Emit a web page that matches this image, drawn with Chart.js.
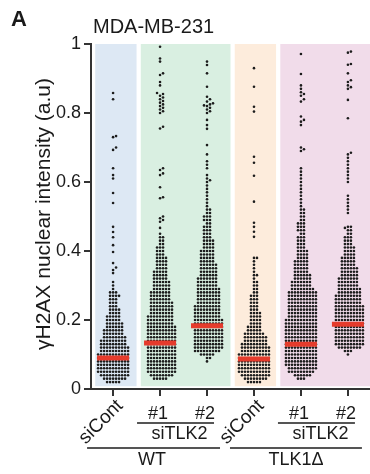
<!DOCTYPE html>
<html lang="en">
<head>
<meta charset="UTF-8">
<script src="https://cdn.jsdelivr.net/npm/chart.js"></script>
<title>MDA-MB-231</title>
<style>
  body { margin: 0; background: #fff; }
  canvas { display: block; }
</style>
</head>
<body>
<canvas id="grafico" width="370" height="474"></canvas>
<script>
// categories along x (0..5)
var categorias = ['siCont', '#1', '#2', 'siCont', '#1', '#2'];
var medianas = [0.09, 0.133, 0.183, 0.087, 0.13, 0.188];

// dense part of each swarm: number of dots per 0.01 row, starting at rowStart
var rowStep = 0.01;
var rowStart = [0.02, 0.03, 0.08, 0.02, 0.03, 0.10];
var rowsWTsiCont = [5,8,10,11,11,11,11,11,11,10,10,9,9,8,7,7,6,6,5,5,4,4,3,3,3,4,3,1,1,1];
var rowsWT1 = [5,8,10,10,10,10,10,10,10,10,10,10,10,10,10,10,9,9,9,8,8,8,8,7,7,7,6,6,6,5,5,5,4,4,4,4,3,3,3,2,2,2];
var rowsWT2 = [1,2,5,9,10,10,10,10,10,10,10,10,10,9,9,9,9,8,8,8,8,8,7,7,7,6,6,6,6,5,5,5,5,4,4,4,3,3,3,2,2,2,2,2,1,1,1];
var rowsTLKsiCont = [5,8,10,11,11,11,11,11,11,10,10,9,8,8,7,5,5,4,4,4,4,3,3,3,3,3,2,2,2,2,1,2,1,1,1,1,2];
var rowsTLK1 = [3,6,9,10,11,11,11,11,11,11,11,11,11,11,11,11,11,11,10,10,10,10,10,10,10,10,8,7,7,6,6,5,5,5,5,4,4,4,3,3,3,3,2,2,2,2,2,1,1,1,1];
var rowsTLK2 = [1,3,8,10,10,10,10,10,10,10,10,10,10,10,10,9,9,9,8,8,7,7,7,6,6,6,5,5,5,4,4,4,3,3,3,2,2,2];

// sparse high values, read one by one
var altosWTsiCont = [0.336,0.345,0.352,0.365,0.397,0.417,0.44,0.455,0.47,0.539,0.568,0.61,0.62,0.64,0.693,0.70,0.73,0.733,0.84,0.858];
var altosWT1 = [0.45,0.467,0.485,0.49,0.495,0.50,0.553,0.556,0.585,0.62,0.625,0.635,0.64,0.755,0.76,0.80,0.805,0.81,0.815,0.82,0.825,0.83,0.835,0.84,0.845,0.85,0.855,0.858,0.88,0.89,0.91,0.915,0.949,0.958,0.992];
var altosWT2 = [0.47,0.49,0.50,0.52,0.55,0.56,0.57,0.58,0.59,0.60,0.605,0.61,0.62,0.64,0.65,0.66,0.68,0.707,0.754,0.765,0.78,0.80,0.805,0.81,0.815,0.82,0.822,0.825,0.828,0.833,0.84,0.847,0.876,0.915,0.939,0.949];
var altosTLKsiCont = [0.441,0.456,0.47,0.482,0.543,0.618,0.656,0.673,0.804,0.818,0.876,0.93];
var altosTLK1 = [0.46,0.47,0.48,0.50,0.51,0.52,0.54,0.55,0.56,0.57,0.58,0.59,0.60,0.61,0.62,0.63,0.64,0.69,0.695,0.70,0.765,0.775,0.78,0.79,0.833,0.84,0.85,0.855,0.86,0.87,0.88,0.913,0.971];
var altosTLK2 = [0.467,0.51,0.52,0.53,0.54,0.55,0.56,0.60,0.61,0.62,0.63,0.64,0.65,0.66,0.67,0.68,0.685,0.785,0.838,0.87,0.875,0.88,0.89,0.895,0.915,0.94,0.942,0.975,0.978];

var rows = [rowsWTsiCont, rowsWT1, rowsWT2, rowsTLKsiCont, rowsTLK1, rowsTLK2];
var altos = [altosWTsiCont, altosWT1, altosWT2, altosTLKsiCont, altosTLK1, altosTLK2];

// simple beeswarm: each dot goes to the nearest free slot beside the centre
var pxX = 47, pxY = 345, gap = 3.0;
function swarm(centro, valores) {
    var feitos = [];
    var saida = [];
    valores.forEach(function (y) {
        for (var k = 0; k < 60; k++) {
            var off = (k % 2 ? 1 : -1) * Math.ceil(k / 2) * gap;
            var livre = true;
            for (var j = 0; j < feitos.length; j++) {
                var dy = (feitos[j][1] - y) * pxY;
                if (Math.abs(dy) >= gap) continue;
                var dx = feitos[j][0] - off;
                if (dx * dx + dy * dy < gap * gap - 0.01) { livre = false; break; }
            }
            if (livre) {
                feitos.push([off, y]);
                saida.push({ x: centro + off / pxX, y: y });
                break;
            }
        }
    });
    return saida;
}

var pontos = [];
rows.forEach(function (lista, g) {
    var valores = [];
    lista.forEach(function (n, i) {
        for (var c = 0; c < n; c++) valores.push(rowStart[g] + i * rowStep);
    });
    altos[g].slice().sort(function (a, b) { return a - b; }).forEach(function (v) { valores.push(v); });
    pontos = pontos.concat(swarm(g, valores));
});

var paineis = [
    { de: -0.38, ate: 0.5, cor: '#dde8f4' },
    { de: 0.59, ate: 2.5, cor: '#d9efe1' },
    { de: 2.59, ate: 3.47, cor: '#fdecdc' },
    { de: 3.56, ate: 5.47, cor: '#f1dcea' }
];

var fundo = {
    id: 'fundo',
    beforeDatasetsDraw: function (chart) {
        var ctx = chart.ctx, xs = chart.scales.x, ys = chart.scales.y;
        ctx.save();
        paineis.forEach(function (p) {
            var x0 = xs.getPixelForValue(p.de), x1 = xs.getPixelForValue(p.ate);
            var y0 = ys.getPixelForValue(1), y1 = ys.getPixelForValue(0.008);
            ctx.fillStyle = p.cor;
            ctx.fillRect(x0, y0, x1 - x0, y1 - y0);
        });
        ctx.restore();
    }
};

var textos = {
    id: 'textos',
    afterDraw: function (chart) {
        var ctx = chart.ctx, xs = chart.scales.x;
        var px = function (i) { return xs.getPixelForValue(i); };
        ctx.save();
        ctx.fillStyle = '#1a1a1a';
        ctx.font = 'bold 22px "Liberation Sans", Arial, sans-serif';
        ctx.textAlign = 'left';
        ctx.fillText('A', 11, 26);
        ctx.font = '20px "Liberation Sans", Arial, sans-serif';
        ctx.fillText('MDA-MB-231', 93, 33);

        // y title
        ctx.save();
        ctx.translate(50, 214);
        ctx.rotate(-Math.PI / 2);
        ctx.textAlign = 'center';
        ctx.font = '21px "Liberation Sans", Arial, sans-serif';
        ctx.fillText('\u03b3H2AX nuclear intensity (a.u)', 0, 0);
        ctx.restore();

        // rotated siCont
        [0, 3].forEach(function (i) {
            ctx.save();
            ctx.translate(px(i) - 12, 422);
            ctx.rotate(-Math.PI / 4);
            ctx.textAlign = 'center';
            ctx.textBaseline = 'middle';
            ctx.font = '19px "Liberation Sans", Arial, sans-serif';
            ctx.fillText(categorias[i], 0, 0);
            ctx.restore();
        });

        ctx.font = '18px "Liberation Sans", Arial, sans-serif';
        ctx.textAlign = 'center';
        [1, 2, 4, 5].forEach(function (i) {
            ctx.fillText(categorias[i], px(i) - 2, 419);
        });

        ctx.strokeStyle = '#555';
        ctx.lineWidth = 2;
        [[1, 2], [4, 5]].forEach(function (par) {
            ctx.beginPath();
            ctx.moveTo(px(par[0]) - 23, 423);
            ctx.lineTo(px(par[1]) + 7, 423);
            ctx.stroke();
            ctx.fillText('siTLK2', (px(par[0]) + px(par[1])) / 2 - 4, 439);
        });

        ctx.beginPath();
        ctx.moveTo(px(0) - 26, 448);
        ctx.lineTo(px(2) + 13, 448);
        ctx.moveTo(px(3) - 24, 448);
        ctx.lineTo(px(5) + 14, 448);
        ctx.stroke();
        ctx.fillText('WT', px(1) - 8, 465);
        ctx.fillText('TLK1\u0394', px(4) - 5, 465);
        ctx.restore();
    }
};

new Chart(document.getElementById('grafico'), {
    type: 'scatter',
    data: {
        datasets: [
            {
                label: 'median',
                data: medianas.map(function (m, i) { return { x: i, y: m }; }),
                pointStyle: 'line',
                pointRadius: 16,
                borderWidth: 5,
                borderColor: '#e53b2c',
                backgroundColor: '#e53b2c'
            },
            {
                label: 'cells',
                data: pontos,
                pointRadius: 1.3,
                borderWidth: 0,
                backgroundColor: '#1c1c1c'
            }
        ]
    },
    options: {
        responsive: false,
        animation: false,
        layout: { autoPadding: false, padding: { top: 44, right: 0, left: 0, bottom: 0 } },
        plugins: { legend: { display: false }, tooltip: { enabled: false } },
        scales: {
            x: {
                type: 'linear',
                min: -0.47,
                max: 5.47,
                afterBuildTicks: function (s) { s.ticks = categorias.map(function (c, i) { return { value: i }; }); },
                afterFit: function (s) { s.height = 85; },
                ticks: { display: false },
                grid: { drawOnChartArea: false, tickLength: 7, color: '#333', lineWidth: 2 },
                border: { color: '#333', width: 2 }
            },
            y: {
                min: 0,
                max: 1,
                afterFit: function (s) { s.width = 91; },
                ticks: {
                    stepSize: 0.2,
                    color: '#1a1a1a',
                    padding: 3,
                    font: { family: '"Liberation Sans", Arial, sans-serif', size: 18 },
                    callback: function (v) { return String(+v.toFixed(1)); }
                },
                grid: { drawOnChartArea: false, tickLength: 7, color: '#333', lineWidth: 2 },
                border: { color: '#333', width: 2 }
            }
        }
    },
    plugins: [fundo, textos]
});
</script>
</body>
</html>
